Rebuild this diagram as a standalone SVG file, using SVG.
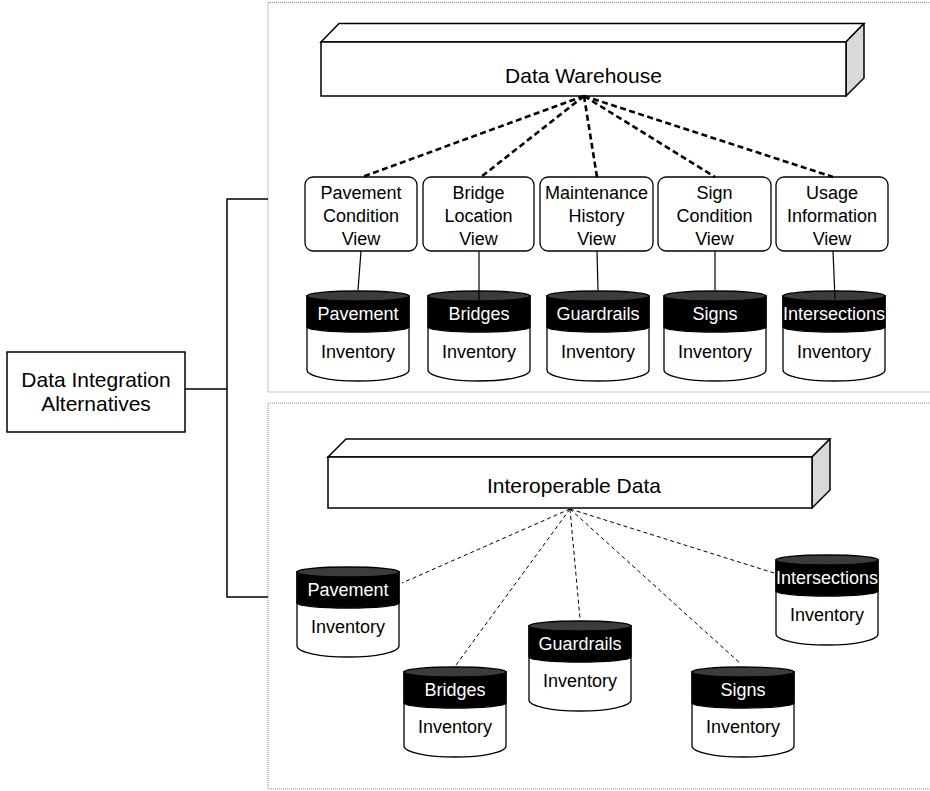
<svg xmlns="http://www.w3.org/2000/svg" xmlns:xlink="http://www.w3.org/1999/xlink" width="930" height="791" viewBox="0 0 930 791">
<style>
.frame{fill:none;stroke:#8a8a8a;stroke-width:1;stroke-dasharray:1 1}
.box{fill:#fff;stroke:#000;stroke-width:1.5}
.side{fill:#d9d9d9;stroke:#000;stroke-width:1.5;stroke-linejoin:round}
.view{fill:#fff;stroke:#000;stroke-width:1.3}
.t{font-family:"Liberation Sans",Arial,sans-serif;font-size:18px;fill:#000;text-anchor:middle}
.big{font-size:21px}
.w{fill:#fff}
.solid{fill:none;stroke:#000;stroke-width:1.5}
.thin{fill:none;stroke:#000;stroke-width:1.2}
.dash1{fill:none;stroke:#000;stroke-width:2.6;stroke-dasharray:6 3.5}
.dash2{fill:none;stroke:#000;stroke-width:1;stroke-dasharray:4 3}
</style>
<defs>
<g id="cyl">
<path d="M0,5 L0,79 A51,11 0 0 0 102,79 L102,5 Z" fill="#fff" stroke="#000" stroke-width="1.3"/>
<path d="M0,5 L0,36 A51,5 0 0 0 102,36 L102,5 Z" fill="#000" stroke="#000" stroke-width="1.3"/>
<ellipse cx="51" cy="5" rx="51" ry="5" fill="#3c3c3c" stroke="#000" stroke-width="1.3"/>
</g>
</defs>
<rect class="frame" x="268" y="2.5" width="700" height="389.5"/>
<rect class="frame" x="268" y="403" width="700" height="386"/>

<g id="integration">
<rect class="box" x="7" y="352" width="178" height="80"/>
<text class="t big" x="96" y="387">Data Integration</text>
<text class="t big" x="96" y="411">Alternatives</text>
</g>

<g id="warehouse">
<polygon class="box" points="321,42 339,23.5 864,23.5 846,42"/>
<polygon class="side" points="846,42 864,23.5 864,78 846,96"/>
<rect class="box" x="321" y="42" width="525" height="54"/>
<text class="t big" x="583.5" y="83">Data Warehouse</text>
</g>

<g id="view-pavement">
<rect class="view" x="305" y="177" width="112" height="74" rx="8"/>
<text class="t" x="361" y="198.5">Pavement</text>
<text class="t" x="361" y="221.5">Condition</text>
<text class="t" x="361" y="244.5">View</text>
</g>
<g id="view-bridge">
<rect class="view" x="423" y="177" width="111" height="74" rx="8"/>
<text class="t" x="478.5" y="198.5">Bridge</text>
<text class="t" x="478.5" y="221.5">Location</text>
<text class="t" x="478.5" y="244.5">View</text>
</g>
<g id="view-maintenance">
<rect class="view" x="540" y="177" width="113" height="74" rx="8"/>
<text class="t" x="596.5" y="198.5">Maintenance</text>
<text class="t" x="596.5" y="221.5">History</text>
<text class="t" x="596.5" y="244.5">View</text>
</g>
<g id="view-sign">
<rect class="view" x="658" y="177" width="113" height="74" rx="8"/>
<text class="t" x="714.5" y="198.5">Sign</text>
<text class="t" x="714.5" y="221.5">Condition</text>
<text class="t" x="714.5" y="244.5">View</text>
</g>
<g id="view-usage">
<rect class="view" x="776" y="177" width="112" height="74" rx="8"/>
<text class="t" x="832" y="198.5">Usage</text>
<text class="t" x="832" y="221.5">Information</text>
<text class="t" x="832" y="244.5">View</text>
</g>

<g id="db1-pavement" transform="translate(307,291)">
<use xlink:href="#cyl"/>
<text class="t w" x="51" y="29">Pavement</text>
<text class="t" x="51" y="67">Inventory</text>
</g>
<g id="db1-bridges" transform="translate(428,291)">
<use xlink:href="#cyl"/>
<text class="t w" x="51" y="29">Bridges</text>
<text class="t" x="51" y="67">Inventory</text>
</g>
<g id="db1-guardrails" transform="translate(547,291)">
<use xlink:href="#cyl"/>
<text class="t w" x="51" y="29">Guardrails</text>
<text class="t" x="51" y="67">Inventory</text>
</g>
<g id="db1-signs" transform="translate(664,291)">
<use xlink:href="#cyl"/>
<text class="t w" x="51" y="29">Signs</text>
<text class="t" x="51" y="67">Inventory</text>
</g>
<g id="db1-intersections" transform="translate(783,291)">
<use xlink:href="#cyl"/>
<text class="t w" x="51" y="29">Intersections</text>
<text class="t" x="51" y="67">Inventory</text>
</g>

<g id="interoperable">
<polygon class="box" points="328,457 346,439 830,439 812,457"/>
<polygon class="side" points="812,457 830,439 830,490 812,508"/>
<rect class="box" x="328" y="457" width="484" height="51"/>
<text class="t big" x="574" y="493">Interoperable Data</text>
</g>

<g id="db2-pavement" transform="translate(297,567)">
<use xlink:href="#cyl"/>
<text class="t w" x="51" y="29">Pavement</text>
<text class="t" x="51" y="66">Inventory</text>
</g>
<g id="db2-bridges" transform="translate(404,667)">
<use xlink:href="#cyl"/>
<text class="t w" x="51" y="29">Bridges</text>
<text class="t" x="51" y="66">Inventory</text>
</g>
<g id="db2-guardrails" transform="translate(529,621)">
<use xlink:href="#cyl"/>
<text class="t w" x="51" y="29">Guardrails</text>
<text class="t" x="51" y="66">Inventory</text>
</g>
<g id="db2-signs" transform="translate(692,667)">
<use xlink:href="#cyl"/>
<text class="t w" x="51" y="29">Signs</text>
<text class="t" x="51" y="66">Inventory</text>
</g>
<g id="db2-intersections" transform="translate(776,555)">
<use xlink:href="#cyl"/>
<text class="t w" x="51" y="29">Intersections</text>
<text class="t" x="51" y="66">Inventory</text>
</g>

<g id="connectors">
<polyline class="solid" points="185,389 227,389"/>
<polyline class="solid" points="268,199 227,199 227,597 268,597"/>
<line class="dash1" x1="584" y1="96" x2="362" y2="177"/>
<line class="dash1" x1="584" y1="96" x2="481" y2="177"/>
<line class="dash1" x1="584" y1="96" x2="597" y2="177"/>
<line class="dash1" x1="584" y1="96" x2="715" y2="177"/>
<line class="dash1" x1="584" y1="96" x2="833" y2="177"/>
<line class="thin" x1="361" y1="251" x2="358" y2="290"/>
<line class="thin" x1="479" y1="251" x2="479" y2="300"/>
<line class="thin" x1="597" y1="251" x2="598" y2="290"/>
<line class="thin" x1="715" y1="251" x2="715" y2="290"/>
<line class="thin" x1="833" y1="251" x2="835" y2="299"/>
<line class="dash2" x1="570" y1="509" x2="402" y2="583"/>
<line class="dash2" x1="570" y1="509" x2="456" y2="665"/>
<line class="dash2" x1="570" y1="509" x2="580" y2="619"/>
<line class="dash2" x1="570" y1="509" x2="741" y2="664"/>
<line class="dash2" x1="570" y1="509" x2="774" y2="573"/>
</g>
</svg>
